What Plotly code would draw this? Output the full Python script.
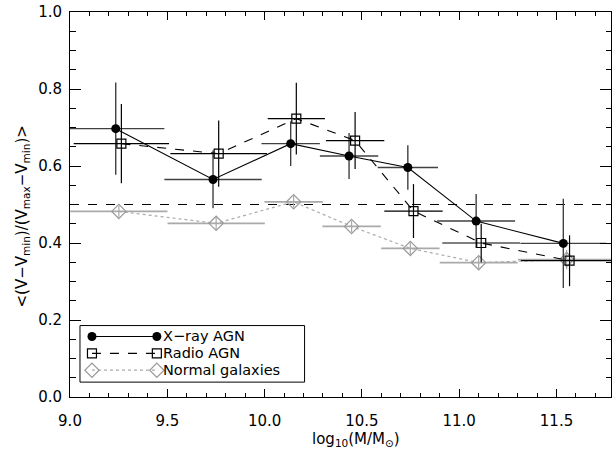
import plotly.graph_objects as go

# ---- data ----
xray_x = [9.235, 9.735, 10.134, 10.434, 10.736, 11.087, 11.535]
xray_y = [0.697, 0.565, 0.658, 0.626, 0.596, 0.457, 0.399]
xray_yerr = [0.120, 0.075, 0.058, 0.060, 0.058, 0.070, 0.116]
xray_xerr = [0.25, 0.25, 0.15, 0.15, 0.155, 0.20, 0.22]

radio_x = [9.264, 9.764, 10.163, 10.465, 10.765, 11.113, 11.567]
radio_y = [0.658, 0.632, 0.723, 0.666, 0.483, 0.400, 0.354]
radio_yerr = [0.103, 0.086, 0.093, 0.074, 0.070, 0.050, 0.066]
radio_xerr = [0.245, 0.248, 0.147, 0.15, 0.15, 0.20, 0.25]

normal_x = [9.251, 9.751, 10.149, 10.447, 10.749, 11.100, 11.552]
normal_y = [0.482, 0.451, 0.507, 0.443, 0.386, 0.349, 0.357]
normal_yerr = [0.015, 0.015, 0.015, 0.015, 0.015, 0.015, 0.025]
normal_xerr = [0.25, 0.25, 0.15, 0.15, 0.15, 0.20, 0.25]

reference_level = 0.5
legend_names = ["X\u2212ray AGN", "Radio AGN", "Normal galaxies"]

x_range = [9.0, 11.78]
y_range = [0.0, 1.0]
x_ticks = [9.0, 9.5, 10.0, 10.5, 11.0, 11.5]
y_ticks = [0.0, 0.2, 0.4, 0.6, 0.8, 1.0]

FONT = "DejaVu Sans"
W, H = 615, 455
ML, MR, MT, MB = 70, 3, 9, 58
PW, PH = W - ML - MR, H - MT - MB


def px2paper(px, py):
    return (px - ML) / PW, (H - MB - py) / PH


fig = go.Figure()

# normal galaxies
fig.add_trace(go.Scatter(
    x=normal_x, y=normal_y, mode="lines+markers",
    line=dict(color="#aaaaaa", width=1.2, dash="dot"),
    marker=dict(symbol="diamond-open", size=11, color="#999999", line=dict(width=1.2)),
    error_x=dict(type="data", array=normal_xerr, color="#aaaaaa", thickness=1.8, width=0),
    error_y=dict(type="data", array=normal_yerr, color="#aaaaaa", thickness=1.2, width=0),
    showlegend=False,
))

# X-ray AGN
fig.add_trace(go.Scatter(
    x=xray_x, y=xray_y, mode="lines+markers",
    line=dict(color="black", width=1.1),
    marker=dict(symbol="circle", size=9, color="black"),
    error_x=dict(type="data", array=xray_xerr, color="#404040", thickness=1.4, width=0),
    error_y=dict(type="data", array=xray_yerr, color="#404040", thickness=1.4, width=0),
    showlegend=False,
))

# Radio AGN
fig.add_trace(go.Scatter(
    x=radio_x, y=radio_y, mode="lines+markers",
    line=dict(color="black", width=1.1, dash="dash"),
    marker=dict(symbol="square-open", size=9, color="black", line=dict(width=1.2)),
    error_x=dict(type="data", array=radio_xerr, color="black", thickness=1.2, width=0),
    error_y=dict(type="data", array=radio_yerr, color="black", thickness=1.2, width=0),
    showlegend=False,
))

# reference horizontal line
fig.add_shape(type="line", xref="x domain", yref="y", x0=0, x1=1,
              y0=reference_level, y1=reference_level,
              line=dict(color="black", width=1.2, dash="dash"), layer="below")

# ---- hand-drawn IDL-style legend (overlay axes in paper units) ----
bx0, by0 = px2paper(80, 382)
bx1, by1 = px2paper(305, 325)
fig.add_shape(type="rect", xref="paper", yref="paper", x0=bx0, y0=by0, x1=bx1, y1=by1,
              line=dict(color="black", width=1), fillcolor="rgba(0,0,0,0)", layer="above")

rows_py = [336, 353, 370]
styles = [
    dict(line=dict(color="black", width=1.1),
         marker=dict(symbol="circle", size=9, color="black")),
    dict(line=dict(color="black", width=1.1, dash="dash"),
         marker=dict(symbol="square-open", size=9, color="black", line=dict(width=1.2))),
    dict(line=dict(color="#aaaaaa", width=1.2, dash="dot"),
         marker=dict(symbol="diamond-open", size=11, color="#999999", line=dict(width=1.2))),
]
for name, py, st in zip(legend_names, rows_py, styles):
    xa, ya = px2paper(92, py)
    xb, _ = px2paper(157, py)
    fig.add_trace(go.Scatter(x=[xa, xb], y=[ya, ya], mode="lines+markers",
                             xaxis="x2", yaxis="y2", showlegend=False,
                             hoverinfo="skip", cliponaxis=False, **st))
    tx, _ = px2paper(161, py)
    fig.add_annotation(text=name, xref="paper", yref="paper", x=tx, y=ya,
                       xanchor="left", yanchor="middle", showarrow=False,
                       font=dict(family=FONT, size=14.5, color="black"))

# axis titles
axx, axy = px2paper(357, 440)
fig.add_annotation(text="log<sub>10</sub>(M/M<sub>\u2299</sub>)", xref="paper", yref="paper",
                   x=axx, y=axy, xanchor="center", yanchor="middle", showarrow=False,
                   font=dict(family=FONT, size=15, color="black"))
ayx, ayy = px2paper(22, 215)
fig.add_annotation(text="&lt;(V\u2212V<sub>min</sub>)/(V<sub>max</sub>\u2212V<sub>min</sub>)&gt;",
                   xref="paper", yref="paper", x=ayx, y=ayy, textangle=-90,
                   xanchor="center", yanchor="middle", showarrow=False,
                   font=dict(family=FONT, size=15, color="black"))

common_x = dict(range=x_range, tickvals=x_ticks, ticks="inside", ticklen=8, tickwidth=1,
                tickcolor="black", showgrid=False, zeroline=False,
                minor=dict(dtick=0.1, ticks="inside", ticklen=4, tickcolor="black",
                           showgrid=False))
common_y = dict(range=y_range, tickvals=y_ticks, ticks="inside", ticklen=11, tickwidth=1,
                tickcolor="black", showgrid=False, zeroline=False,
                minor=dict(dtick=0.05, ticks="inside", ticklen=5.5, tickcolor="black",
                           showgrid=False))

fig.update_layout(
    width=W, height=H,
    margin=dict(l=ML, r=MR, t=MT, b=MB, pad=0),
    paper_bgcolor="white", plot_bgcolor="white",
    font=dict(family=FONT, size=15, color="black"),
    xaxis=dict(**common_x, ticktext=[f"{v:.1f}" for v in x_ticks],
               showline=True, linecolor="black", linewidth=1, mirror=True,
               ticklabelstandoff=10),
    yaxis=dict(**common_y, ticktext=[f"{v:.1f}" for v in y_ticks],
               showline=True, linecolor="black", linewidth=1, mirror=True,
               ticklabelstandoff=4),
    xaxis2=dict(overlaying="x", range=[0, 1], visible=False, anchor="y2"),
    yaxis2=dict(overlaying="y", range=[0, 1], visible=False, anchor="x2"),
    xaxis3=dict(**common_x, overlaying="x", side="top", anchor="y", showticklabels=False,
                showline=False),
    yaxis3=dict(**common_y, overlaying="y", side="right", anchor="x", showticklabels=False,
                showline=False),
)

# fully transparent copies of a series to activate the mirrored tick axes
fig.add_trace(go.Scatter(x=normal_x, y=normal_y, xaxis="x3", yaxis="y", mode="markers",
                         marker=dict(opacity=0), showlegend=False, hoverinfo="skip"))
fig.add_trace(go.Scatter(x=normal_x, y=normal_y, xaxis="x", yaxis="y3", mode="markers",
                         marker=dict(opacity=0), showlegend=False, hoverinfo="skip"))

fig.write_html("out.html")
